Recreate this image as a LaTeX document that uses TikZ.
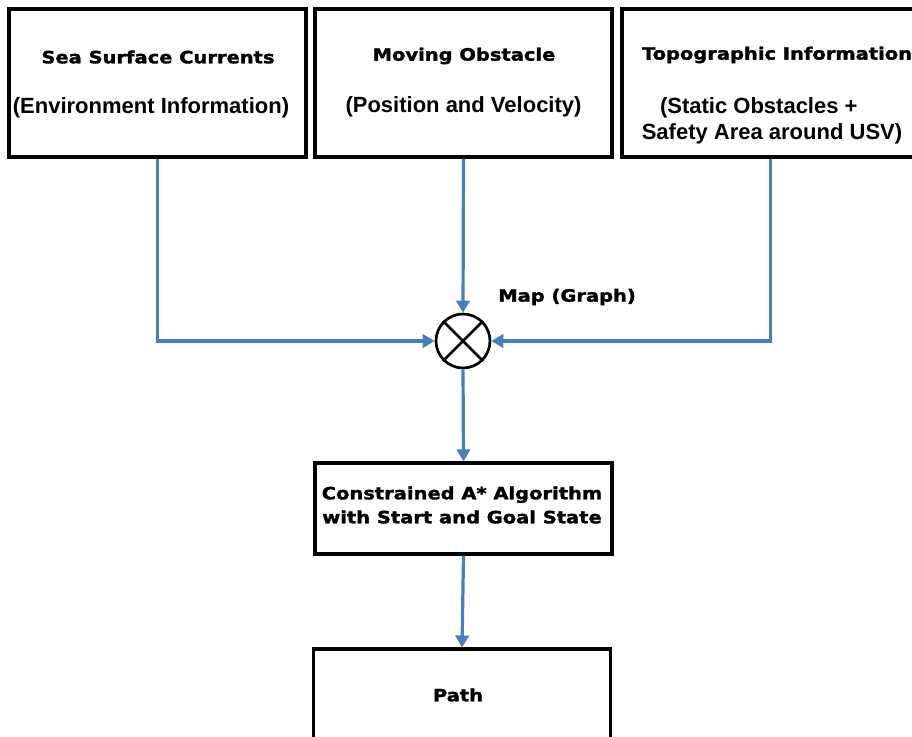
\documentclass[tikz,border=0pt]{standalone}
\usepackage{fontspec}
\setmainfont{Liberation Sans}
\newfontfamily\heavyfont{DejaVu Sans}[BoldFeatures={FakeBold=1.8,FakeStretch=1.15}]
\usetikzlibrary{arrows.meta,positioning}
\definecolor{flowblue}{HTML}{4A7EBB}
\tikzset{
    box/.style={draw=black,line width=2.3pt,minimum width=297*0.75pt,align=center,inner sep=0pt},
    tall box/.style={box,minimum height=148*0.75pt},
    low box/.style={box,minimum height=91*0.75pt},
    head/.style={font=\heavyfont\bfseries\fontsize{12.7}{18}\selectfont,align=center,inner sep=0pt},
    sub/.style={font=\bfseries\fontsize{16.5}{19.5}\selectfont,align=center,inner sep=0pt},
    flow/.style={-{Triangle[width=10pt,length=9pt]},flowblue,line width=2.4pt},
    junction/.style={circle,draw=black,line width=2pt,minimum size=54*0.75pt,inner sep=0pt},
}

\begin{document}
\begin{tikzpicture}[x=0.75pt,y=-0.75pt]
        \useasboundingbox (0,0) rectangle (912,737);

        % input boxes
        \node[tall box] (sea) at (157.5,83) {};
        \node[tall box] (obst) at (463.5,83) {};
        \node[tall box] (topo) at (770.5,83) {};
        \node[head] at (158,57) {Sea Surface Currents};
        \node[sub] at (151,108) {(Environment Information)};
        \node[head] at (464,56) {Moving Obstacle};
        \node[sub] at (463.5,107) {(Position and Velocity)};
        \node[head] at (777,55) {Topographic Information};
        \node[sub] at (772,121) {\hspace*{-1.2em}(Static Obstacles +\\Safety Area around USV)};

        % map junction
        \node[junction] (map) at (463,341) {};
        \draw[line width=2pt] (map.north west) -- (map.south east) (map.north east) -- (map.south west);
        \node[head,anchor=west] at (498,297) {Map (Graph)};

        % planner and result
        \node[low box] (astar) at (463.5,508.5) {};
        \node[head] at (462,505) {Constrained A* Algorithm\\with Start and Goal State};
        \node[box,minimum height=96*0.75pt] (path) at (462,697) {};
        \node[head] at (458,695) {Path};

        \draw[flow] (sea.south) |- (map.west);
        \draw[flow] (obst.south) -- (map.north);
        \draw[flow] (topo.south) |- (map.east);
        \draw[flow] (map.south) -- (astar.north);
        \draw[flow] (astar.south) -- (path.north);
    \end{tikzpicture}
\end{document}
